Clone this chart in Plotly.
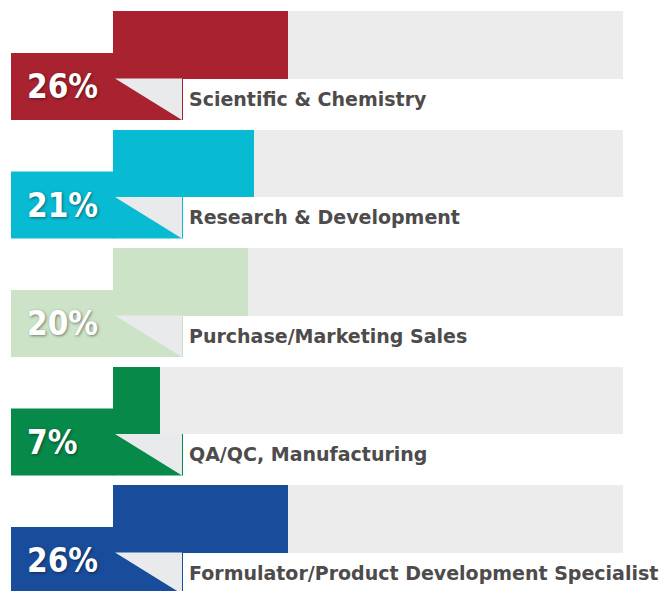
import plotly.graph_objects as go

categories = ["Scientific & Chemistry", "Research & Development", "Purchase/Marketing Sales",
              "QA/QC, Manufacturing", "Formulator/Product Development Specialist"]
values = [26, 21, 20, 7, 26]
pct_labels = ["26%", "21%", "20%", "7%", "26%"]
colors = ["#a8222f", "#08bad2", "#cde3c7", "#07894a", "#1a4c9c"]

TRACK_COLOR = "#ececec"
FOLD_COLOR = "#e9eaec"
K = 6.73          # pixels per percent
X0 = 113          # pixel position of 0 %
PITCH = 118.5     # pixels between rows
Y0 = 44.75        # pixel centre of first bar
W, H = 670, 591

def xd(px):
    return (px - X0) / K

def dy(px):
    return px / PITCH

track_max = xd(623)
bar_w = dy(67.5)
n = len(categories)
ys = list(range(n))

fig = go.Figure()
fig.add_trace(go.Bar(y=ys, x=[track_max] * n, orientation="h", width=bar_w,
                     marker=dict(color=TRACK_COLOR, line=dict(width=0)),
                     hoverinfo="skip", showlegend=False))
fig.add_trace(go.Bar(y=ys, x=values, orientation="h", width=bar_w,
                     marker=dict(color=colors, line=dict(width=0)),
                     hovertext=categories, showlegend=False))

shapes = []
annotations = []
for i in range(n):
    bar_bottom = i + bar_w / 2
    tab_top = i - bar_w / 2 + dy(42)
    tab_bottom = tab_top + dy(67)
    c = colors[i]
    shapes.append(dict(type="rect", xref="x", yref="y", x0=xd(11), x1=xd(114),
                       y0=tab_top, y1=tab_bottom, fillcolor=c, line=dict(width=0), layer="above"))
    shapes.append(dict(type="rect", xref="x", yref="y", x0=xd(113), x1=xd(183),
                       y0=bar_bottom, y1=tab_bottom, fillcolor=c, line=dict(width=0), layer="above"))
    path = "M {a},{b} L {c},{b} L {c},{d} Z".format(a=xd(115), b=bar_bottom, c=xd(182), d=tab_bottom)
    shapes.append(dict(type="path", xref="x", yref="y", path=path,
                       fillcolor=FOLD_COLOR, line=dict(width=0), layer="above"))
    annotations.append(dict(xref="x", yref="y", x=xd(25), y=(tab_top + tab_bottom) / 2,
                            text=pct_labels[i], showarrow=False, xanchor="left", yanchor="middle",
                            font=dict(family="DejaVu Sans Condensed, Liberation Sans Narrow, Liberation Sans, sans-serif",
                                      size=33, color="white",
                                      weight="bold", shadow="1px 1px 3px rgba(0,0,0,0.45)")))
    annotations.append(dict(xref="x", yref="y", x=xd(187), y=bar_bottom + dy(20),
                            text=categories[i], showarrow=False, xanchor="left", yanchor="middle",
                            font=dict(family="DejaVu Sans", size=19, color="#4d4b4b", weight="bold")))

fig.update_layout(
    width=W, height=H, margin=dict(l=0, r=0, t=0, b=0),
    paper_bgcolor="white", plot_bgcolor="white",
    barmode="overlay", bargap=0,
    xaxis=dict(range=[xd(0), xd(W)], visible=False, fixedrange=True),
    yaxis=dict(range=[(H - Y0) / PITCH, -Y0 / PITCH], visible=False, fixedrange=True),
    shapes=shapes, annotations=annotations,
)
fig.write_html("out.html")
